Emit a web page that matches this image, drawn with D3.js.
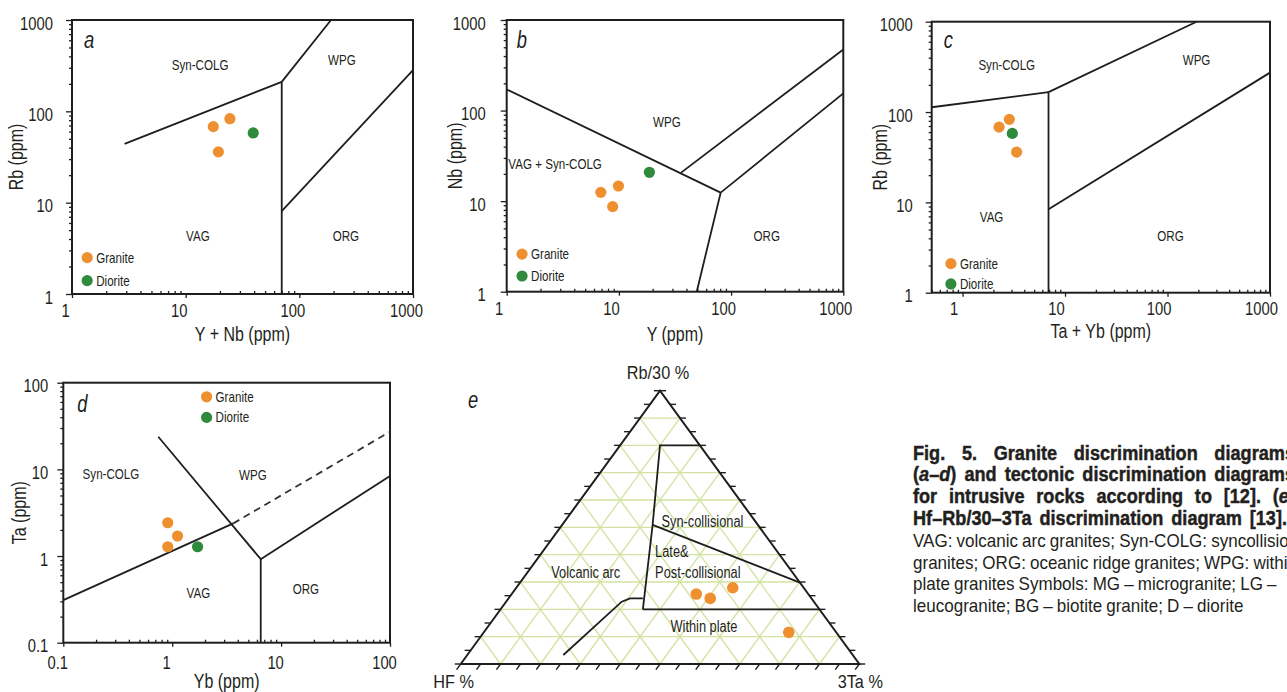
<!DOCTYPE html>
<html>
<head>
<meta charset="utf-8">
<script src="https://cdn.jsdelivr.net/npm/d3@7"></script>
<style>
body { margin: 0; background: #fff; }
text { font-family: "Liberation Sans Narrow", "Liberation Sans", sans-serif; fill: #231f20; }
</style>
</head>
<body>
<svg id="fig" width="1287" height="692"></svg>
<script>
// sample points, [x, y] in ppm
var granA = [[17.5, 68], [24.5, 83], [19.4, 36]];
var dioA = [[39.3, 58]];
var granB = [[6.9, 12.5], [9.9, 14.7], [8.8, 8.7]];
var dioB = [[18.7, 20.8]];
var granC = [[2.27, 68], [2.86, 83], [3.37, 36]];
var dioC = [[3.06, 58]];
var granD = [[0.91, 2.42], [1.12, 1.70], [0.91, 1.28]];
var dioD = [[1.71, 1.28]];
// ternary points, [Hf, Rb/30, 3Ta] in %
var granE = [[28.1, 25.6, 46.3], [25.4, 24.0, 50.6], [17.8, 27.9, 54.3], [11.9, 11.6, 76.5]];

// field boundaries
var linesA = [
  [[2.9, 44], [70, 210]],
  [[70, 1], [70, 210], [190, 1000]],
  [[70, 8.1], [1000, 283]]
];
var linesB = [
  [[1, 171], [80.7, 12.4]],
  [[49.4, 1], [80.7, 12.4], [1000, 155]],
  [[35.6, 20.5], [1000, 473]]
];
var linesC = [
  [[0.5, 113], [6.9, 166]],
  [[6.9, 1], [6.9, 166], [192, 1000]],
  [[6.9, 8.4], [1000, 273]]
];
var linesD = [
  [[0.1, 0.31], [3.64, 2.38]],
  [[0.745, 23.8], [6.5, 0.92], [6.5, 0.1]],
  [[6.5, 0.92], [100, 8.4]]
];
var dashD = [[[3.64, 2.38], [100, 27.2]]];
var linesE = [
  [[0, 80, 20], [10, 80, 10], [26.4, 50.9, 22.7], [44.3, 20, 35.7]],
  [[26.4, 50.9, 22.7], [0, 29.75, 70.25]],
  [[44.3, 20, 35.7], [0, 20, 80]],
  [[42.3, 24, 33.7], [45.5, 24, 30.5], [48.2, 22.8, 29], [72.6, 3.3, 24.1]]
];

// field names
var labelsA = [["Syn-COLG", 13.4, 322], ["WPG", 237, 366], ["VAG", 12.8, 4.3], ["ORG", 257, 4.3]];
var labelsB = [["WPG", 26.8, 75], ["VAG + Syn-COLG", 2.7, 25.7], ["ORG", 208, 4.1]];
var labelsC = [["Syn-COLG", 2.7, 332], ["WPG", 192, 378], ["VAG", 1.92, 6.9], ["ORG", 107, 4.2]];
var labelsD = [["Syn-COLG", 0.274, 8.75], ["WPG", 5.5, 8.6], ["VAG", 1.74, 0.378], ["ORG", 16.9, 0.42]];
var labelsE = [["Syn-collisional", 13.2, 52.3, 34.5, "middle"], ["Late&", 30.6, 41.35, 28.1, "start"],
  ["Post-collisional", 34.5, 33.55, 32.0, "start"], ["Volcanic arc", 51.9, 33.55, 14.6, "middle"],
  ["Within plate", 32.2, 13.65, 54.2, "middle"]];

var captionBold = [
  "Fig. 5. Granite discrimination diagrams",
  "(_a_–_d_) and tectonic discrimination diagrams",
  "for intrusive rocks according to [12]. (_e_)",
  "Hf–Rb/30–3Ta discrimination diagram [13]."
];
var captionText = [
  "VAG: volcanic arc granites; Syn-COLG: syncollisional",
  "granites; ORG: oceanic ridge granites; WPG: within",
  "plate granites Symbols: MG – microgranite; LG –",
  "leucogranite; BG – biotite granite; D – diorite"
];

var orange = "#ef9030";
var green = "#2f8a3d";
var ink = "#1e1e1e";

var svg = d3.select("#fig");

// squeeze a text horizontally, the print used a condensed face
function condense(node, f) {
  var len = node.getComputedTextLength();
  d3.select(node).attr("textLength", len * f).attr("lengthAdjust", "spacingAndGlyphs").classed("cond", true);
  return len * f;
}

function logPanel(p) {
  var x = d3.scaleLog().domain(p.xd).range([p.x0, p.x1]);
  var y = d3.scaleLog().domain(p.yd).range([p.y1, p.y0]);
  var g = svg.append("g");
  var fmt = d3.format("~g");

  var xMaj = [], yMaj = [], xMin = [], yMin = [];
  [[p.xd, xMaj, xMin], [p.yd, yMaj, yMin]].forEach(function(s) {
    var lo = Math.floor(Math.log10(s[0][0]) + 1e-9), hi = Math.round(Math.log10(s[0][1]));
    for (var e = lo; e <= hi; e++) {
      var b = Math.pow(10, e);
      if (b >= s[0][0] - 1e-9) s[1].push(b);
      if (e < hi) for (var k = 2; k < 10; k++) if (k * b >= s[0][0]) s[2].push(+(k * b).toPrecision(3));
    }
  });

  // minor ticks
  g.append("g").attr("transform", "translate(" + p.x0 + ",0)")
    .call(d3.axisLeft(y).tickValues(yMin).tickSize(3).tickFormat(""))
    .call(function(a) { a.select(".domain").remove(); });
  g.append("g").attr("transform", "translate(0," + p.y1 + ")")
    .call(d3.axisBottom(x).tickValues(xMin).tickSize(-3).tickFormat(""))
    .call(function(a) { a.select(".domain").remove(); });

  // major ticks and labels
  var ya = g.append("g").attr("transform", "translate(" + p.x0 + ",0)")
    .call(d3.axisLeft(y).tickValues(yMaj).tickSize(6).tickPadding(p.ypad).tickFormat(fmt));
  ya.select(".domain").remove();
  ya.selectAll("text").attr("font-size", 18.5).attr("font-family", null).attr("dy", "0.5em");
  var xa = g.append("g").attr("transform", "translate(0," + p.y1 + ")")
    .call(d3.axisBottom(x).tickValues(xMaj).tickSize(4).tickPadding(p.xpad).tickFormat(fmt));
  xa.select(".domain").remove();
  xa.selectAll("text").attr("font-size", 18.5).attr("font-family", null).attr("dx", p.xdx);
  g.selectAll(".tick line").attr("stroke", ink).attr("stroke-width", 1.3);

  // frame
  g.append("rect").attr("x", p.x0).attr("y", p.y0)
    .attr("width", p.x1 - p.x0).attr("height", p.y1 - p.y0)
    .attr("fill", "none").attr("stroke", ink).attr("stroke-width", 2);

  var line = d3.line().x(function(d) { return x(d[0]); }).y(function(d) { return y(d[1]); });
  g.selectAll(".bnd").data(p.lines).enter().append("path")
    .attr("d", line).attr("fill", "none").attr("stroke", ink).attr("stroke-width", 1.8);
  if (p.dash) {
    g.selectAll(".dsh").data(p.dash).enter().append("path")
      .attr("d", line).attr("fill", "none").attr("stroke", "#333")
      .attr("stroke-width", 1.8).attr("stroke-dasharray", "7,5");
  }

  g.selectAll(".fld").data(p.labels).enter().append("text")
    .attr("x", function(d) { return x(d[1]); }).attr("y", function(d) { return y(d[2]); })
    .attr("dy", "0.35em").attr("text-anchor", "middle").attr("font-size", 14.5)
    .text(function(d) { return d[0]; });

  g.selectAll(".g").data(p.gran).enter().append("circle")
    .attr("cx", function(d) { return x(d[0]); }).attr("cy", function(d) { return y(d[1]); })
    .attr("r", 5.6).attr("fill", orange);
  g.selectAll(".d").data(p.dio).enter().append("circle")
    .attr("cx", function(d) { return x(d[0]); }).attr("cy", function(d) { return y(d[1]); })
    .attr("r", 5.6).attr("fill", green);

  // legend
  var lg = [["Granite", orange, p.leg[1]], ["Diorite", green, p.leg[2]]];
  lg.forEach(function(l) {
    g.append("circle").attr("cx", x(p.leg[0])).attr("cy", y(l[2])).attr("r", 5.6).attr("fill", l[1]);
    g.append("text").attr("x", x(p.leg[0]) + 9).attr("y", y(l[2])).attr("dy", "0.35em")
      .attr("font-size", 14.5).text(l[0]);
  });

  // panel letter
  g.append("text").attr("x", p.x0 + p.let[1]).attr("y", p.y0 + p.let[2])
    .attr("font-size", 23).attr("font-style", "italic").text(p.let[0]);

  // axis titles
  g.append("text").attr("x", (p.x0 + p.x1) / 2).attr("y", p.y1 + p.xty)
    .attr("text-anchor", "middle").attr("font-size", 20).text(p.xt);
  g.append("text").attr("transform", "translate(" + (p.x0 - p.ytx) + "," + ((p.y0 + p.y1) / 2) + ")rotate(-90)")
    .attr("text-anchor", "middle").attr("dy", "0.35em").attr("font-size", 20).text(p.yt);
}

logPanel({ x0: 72, x1: 413, y0: 20, y1: 294, xd: [1, 1000], yd: [1, 1000], xdx: -7, ypad: 13, xpad: 6,
  lines: linesA, labels: labelsA, gran: granA, dio: dioA, leg: [1.36, 2.5, 1.4],
  let: ["a", 12, 28], xt: "Y + Nb (ppm)", yt: "Rb (ppm)", xty: 47, ytx: 56 });
logPanel({ x0: 506.7, x1: 843.3, y0: 20, y1: 291.7, xd: [1, 1000], yd: [1, 1000], xdx: -8, ypad: 15, xpad: 6,
  lines: linesB, labels: labelsB, gran: granB, dio: dioB, leg: [1.37, 2.6, 1.49],
  let: ["b", 10, 28], xt: "Y (ppm)", yt: "Nb (ppm)", xty: 49, ytx: 52 });
logPanel({ x0: 931.7, x1: 1270, y0: 21.7, y1: 292.7, xd: [0.5, 1000], yd: [1, 1000], xdx: -9, ypad: 13, xpad: 5,
  lines: linesC, labels: labelsC, gran: granC, dio: dioC, leg: [0.77, 2.1, 1.25],
  let: ["c", 12, 26], xt: "Ta + Yb (ppm)", yt: "Rb (ppm)", xty: 45, ytx: 52 });
logPanel({ x0: 63.3, x1: 390, y0: 382.7, y1: 642.7, xd: [0.1, 100], yd: [0.1, 100], xdx: -6, ypad: 9, xpad: 9,
  lines: linesD, dash: dashD, labels: labelsD, gran: granD, dio: dioD, leg: [2.07, 68.8, 39.8],
  let: ["d", 14, 29], xt: "Yb (ppm)", yt: "Ta (ppm)", xty: 45, ytx: 44 });

// ternary diagram e
var tx = d3.scaleLinear().domain([0, 100]).range([460.7, 859.3]);
var ty = d3.scaleLinear().domain([0, 100]).range([664, 390.7]);
function tp(d) { return [tx(d[2] + d[1] / 2), ty(d[1])]; }
var tline = d3.line().x(function(d) { return tp(d)[0]; }).y(function(d) { return tp(d)[1]; });
var ge = svg.append("g");

var grid = [];
d3.range(10, 100, 10).forEach(function(k) {
  grid.push([[100 - k, k, 0], [0, k, 100 - k]]);
  grid.push([[100 - k, 0, k], [0, 100 - k, k]]);
  grid.push([[k, 0, 100 - k], [k, 100 - k, 0]]);
});
ge.selectAll(".grid").data(grid).enter().append("path")
  .attr("d", tline).attr("fill", "none").attr("stroke", "#d3e2a0").attr("stroke-width", 1.3);

// ticks every 5 %
var L = tp([100, 0, 0]), T = tp([0, 100, 0]), R = tp([0, 0, 100]);
var dl = Math.hypot(T[0] - L[0], T[1] - L[1]);
var bv = [(L[0] - T[0]) / dl * 7, (L[1] - T[1]) / dl * 7];
d3.range(0, 101, 5).forEach(function(v) {
  var a = tp([100 - v, v, 0]), b = tp([0, 100 - v, v]), c = tp([100 - v, 0, v]);
  ge.append("line").attr("x1", a[0]).attr("y1", a[1]).attr("x2", a[0] - 6).attr("y2", a[1]);
  ge.append("line").attr("x1", b[0]).attr("y1", b[1]).attr("x2", b[0] + 6).attr("y2", b[1]);
  ge.append("line").attr("x1", c[0]).attr("y1", c[1]).attr("x2", c[0] + bv[0]).attr("y2", c[1] + bv[1]);
});
ge.selectAll("line").attr("stroke", ink).attr("stroke-width", 1.4);

ge.append("path").datum([[100, 0, 0], [0, 100, 0], [0, 0, 100], [100, 0, 0]])
  .attr("d", tline).attr("fill", "none").attr("stroke", ink).attr("stroke-width", 2);
ge.selectAll(".bnd").data(linesE).enter().append("path")
  .attr("d", tline).attr("fill", "none").attr("stroke", ink).attr("stroke-width", 1.8);

ge.selectAll(".fld").data(labelsE).enter().append("text")
  .attr("x", function(d) { return tp([d[1], d[2], d[3]])[0]; })
  .attr("y", function(d) { return tp([d[1], d[2], d[3]])[1]; })
  .attr("dy", "0.35em").attr("text-anchor", function(d) { return d[4]; })
  .attr("font-size", 16).text(function(d) { return d[0]; });

ge.selectAll(".g").data(granE).enter().append("circle")
  .attr("cx", function(d) { return tp(d)[0]; }).attr("cy", function(d) { return tp(d)[1]; })
  .attr("r", 5.8).attr("fill", orange);

var vtx = [["Rb/30 %", T[0] - 2, T[1] - 12], ["HF %", L[0] - 7, L[1] + 24], ["3Ta %", R[0] + 1, R[1] + 24]];
vtx.forEach(function(v) {
  var t = ge.append("text").attr("x", v[1]).attr("y", v[2]).attr("text-anchor", "middle")
    .attr("font-size", 18.5).text(v[0]);
  condense(t.node(), 0.88);
});
ge.append("text").attr("x", 468).attr("y", 408).attr("font-size", 23)
  .attr("font-style", "italic").text("e");

// caption, justified like the printed column
function wordText(parent, w, x, y, size, weight) {
  var t = parent.append("text").attr("x", x).attr("y", y).attr("font-size", size)
    .attr("font-weight", weight);
  if (weight > 400) t.attr("stroke", "#231f20").attr("stroke-width", 0.45);
  w.split("_").forEach(function(part, i) {
    if (part) t.append("tspan").attr("font-style", i % 2 ? "italic" : null).text(part);
  });
  return t;
}
function captionLine(str, x, y, size, weight, squeeze, width) {
  var cg = svg.append("g");
  var words = str.split(" ");
  var nodes = words.map(function(w) { return wordText(cg, w, x, y, size, weight); });
  var lens = nodes.map(function(n) { return condense(n.node(), squeeze); });
  var total = d3.sum(lens);
  var gap = width ? Math.max(size * 0.2, (width - total) / (words.length - 1)) : size * 0.22;
  var cx = x;
  nodes.forEach(function(n, i) { n.attr("x", cx); cx += lens[i] + gap; });
}
captionBold.forEach(function(s, i) {
  captionLine(s, 913, 459.5 + i * 21.8, 19.5, 700, 0.93, i === 3 ? 374 : 382);
});
captionText.forEach(function(s, i) {
  captionLine(s, 913, 547 + i * 21.7, 18.5, 400, 0.92, null);
});

// everything else in the print is set in a condensed face
svg.selectAll("text:not(.cond)").each(function() { condense(this, 0.8); });
</script>
</body>
</html>
